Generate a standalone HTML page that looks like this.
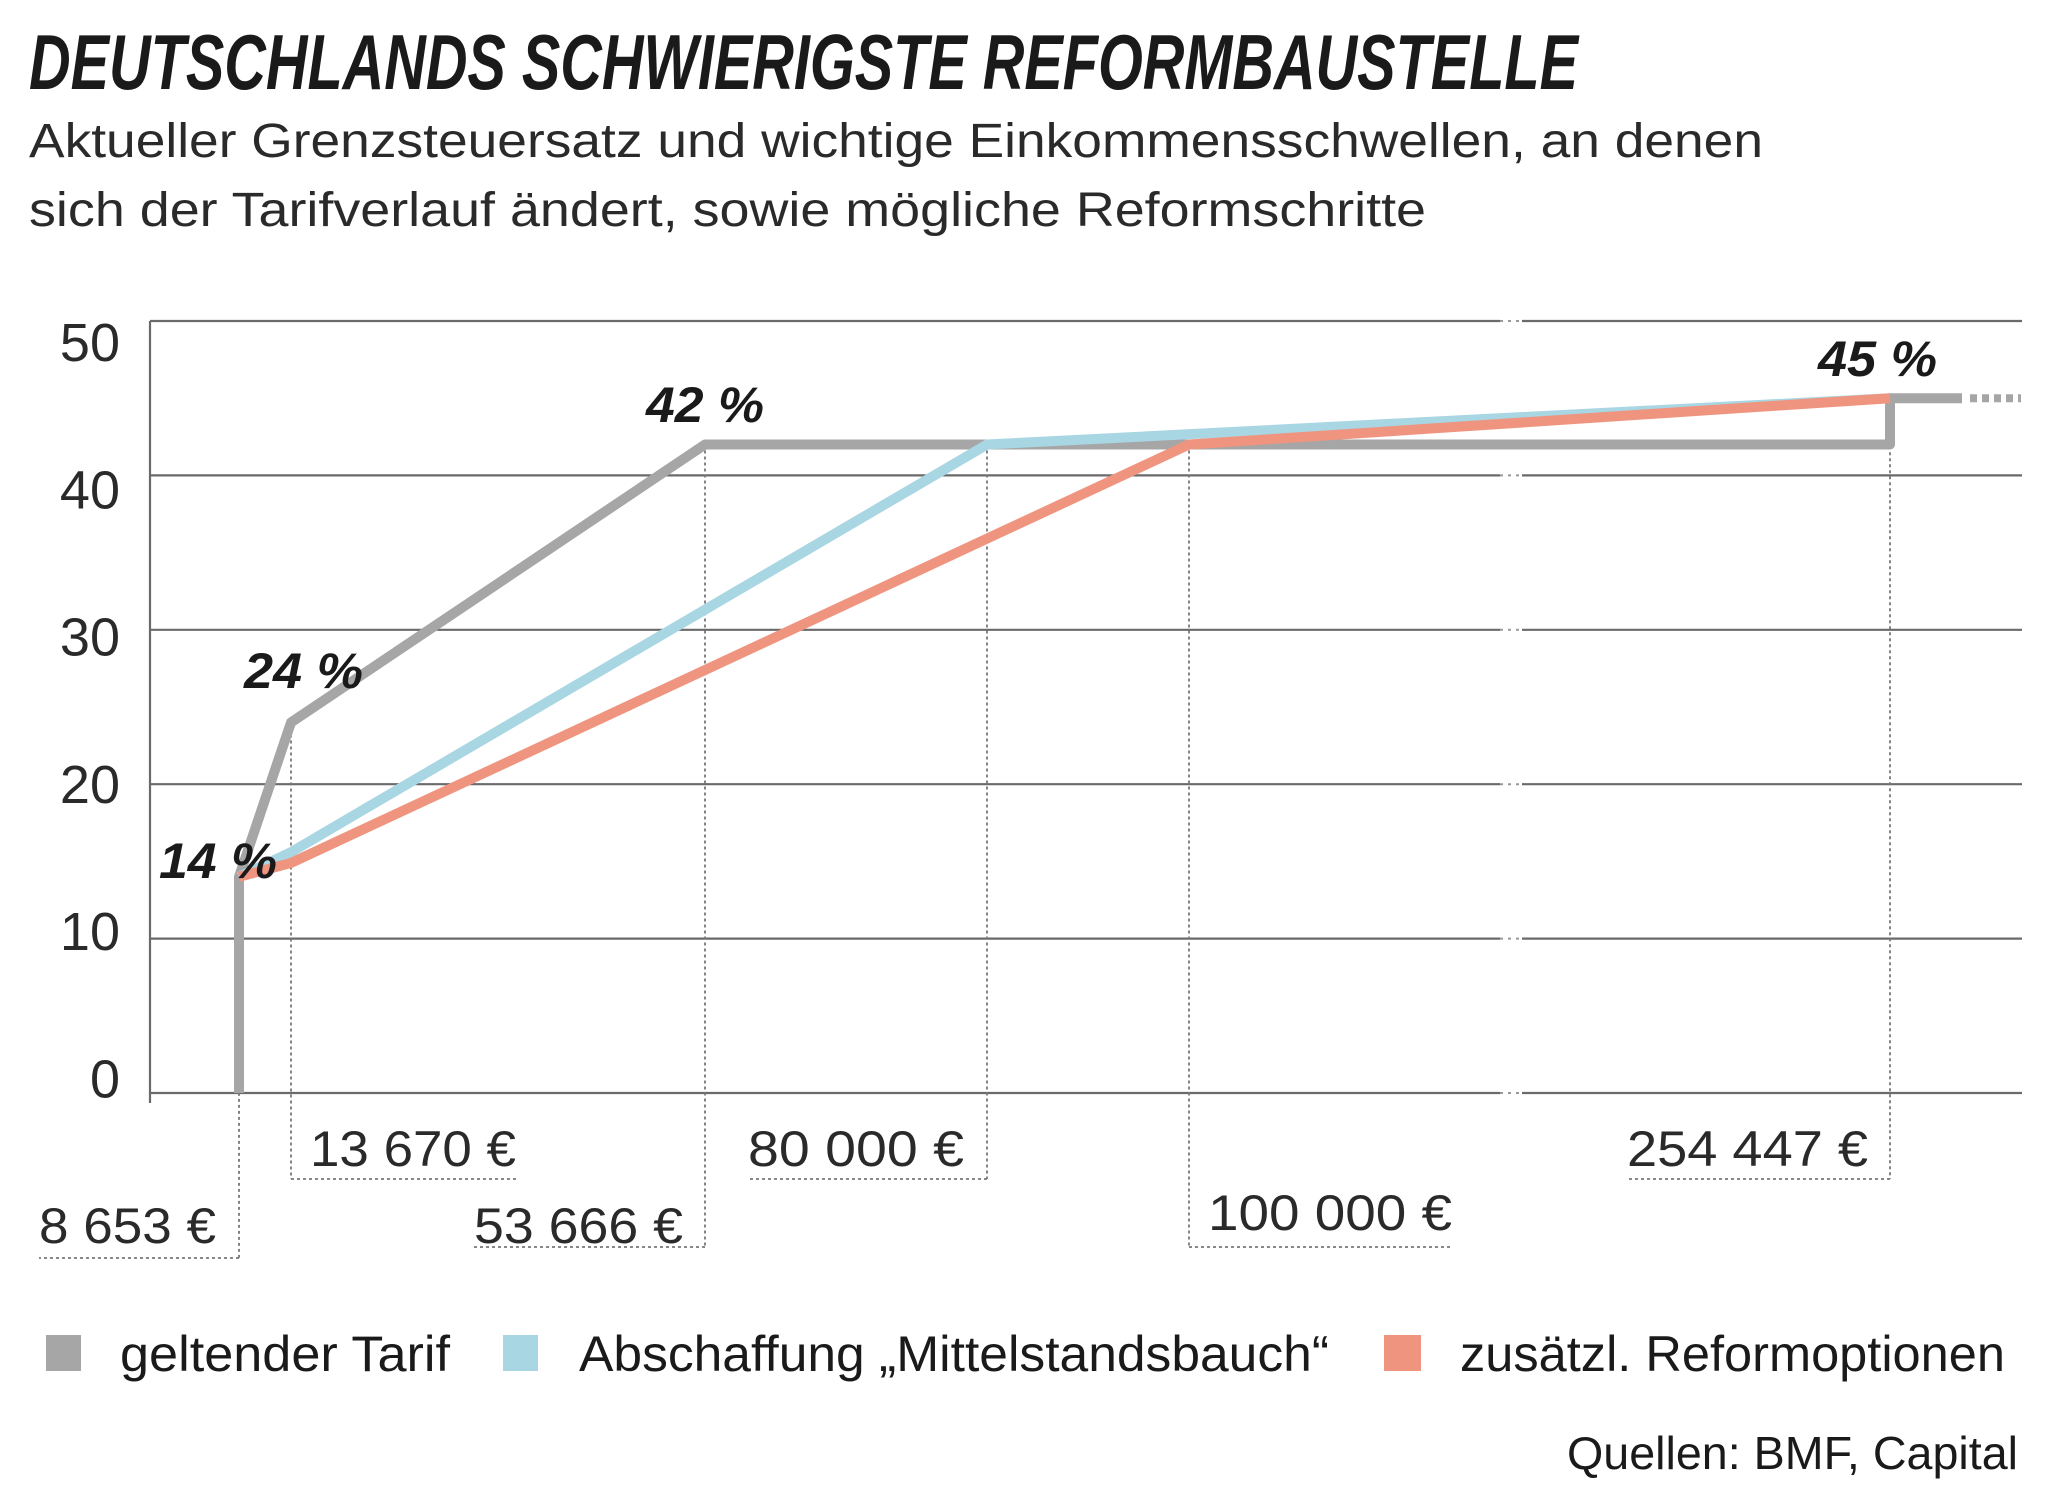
<!DOCTYPE html>
<html><head><meta charset="utf-8"><style>
html,body{margin:0;padding:0;background:#fff;}
svg{display:block;font-family:"Liberation Sans Narrow","Liberation Sans",sans-serif;}
</style></head><body>
<svg id="chart" width="2048" height="1495" viewBox="0 0 2048 1495" xmlns="http://www.w3.org/2000/svg">
<rect width="2048" height="1495" fill="#fff"/>
<text x="29" y="89" font-size="78" font-weight="bold" font-style="italic" fill="#1a1a1a" textLength="1549" lengthAdjust="spacingAndGlyphs">DEUTSCHLANDS SCHWIERIGSTE REFORMBAUSTELLE</text>
<text x="29" y="157" font-size="48" fill="#2a2a2a" textLength="1734" lengthAdjust="spacingAndGlyphs">Aktueller Grenzsteuersatz und wichtige Einkommensschwellen, an denen</text>
<text x="29" y="226" font-size="48" fill="#2a2a2a" textLength="1397" lengthAdjust="spacingAndGlyphs">sich der Tarifverlauf ändert, sowie mögliche Reformschritte</text>
<g id="grid"></g>
<g id="leaders"></g>
<g id="series"></g>
<g font-size="50" fill="#2a2a2a">
<text x="39" y="1243" textLength="177" lengthAdjust="spacingAndGlyphs">8 653 €</text>
<text x="310" y="1166" textLength="206" lengthAdjust="spacingAndGlyphs">13 670 €</text>
<text x="474" y="1243" textLength="209" lengthAdjust="spacingAndGlyphs">53 666 €</text>
<text x="748" y="1166" textLength="216" lengthAdjust="spacingAndGlyphs">80 000 €</text>
<text x="1208" y="1230" textLength="244" lengthAdjust="spacingAndGlyphs">100 000 €</text>
<text x="1627" y="1166" textLength="241" lengthAdjust="spacingAndGlyphs">254 447 €</text>
</g>
<g font-size="50" font-weight="bold" font-style="italic" fill="#1a1a1a">
<text x="159" y="878" textLength="118" lengthAdjust="spacingAndGlyphs">14 %</text>
<text x="244" y="688" textLength="119" lengthAdjust="spacingAndGlyphs">24 %</text>
<text x="646" y="422" textLength="118" lengthAdjust="spacingAndGlyphs">42 %</text>
<text x="1818" y="376" textLength="119" lengthAdjust="spacingAndGlyphs">45 %</text>
</g>
<g font-size="50" fill="#1a1a1a">
<rect x="46" y="1335" width="35" height="36" fill="#a6a6a6"/>
<text x="120" y="1371" textLength="330" lengthAdjust="spacingAndGlyphs">geltender Tarif</text>
<rect x="503" y="1335" width="35" height="36" fill="#a9d6e3"/>
<text x="579" y="1371" textLength="750" lengthAdjust="spacingAndGlyphs">Abschaffung „Mittelstandsbauch“</text>
<rect x="1384" y="1335" width="37" height="36" fill="#ef957f"/>
<text x="1460" y="1371" textLength="545" lengthAdjust="spacingAndGlyphs">zusätzl. Reformoptionen</text>
</g>
<text x="2018" y="1469" text-anchor="end" font-size="46" fill="#1a1a1a" textLength="451" lengthAdjust="spacingAndGlyphs">Quellen: BMF, Capital</text>
</svg>
<script>
const yTicks = [0, 10, 20, 30, 40, 50];
const thresholds = [8653, 13670, 53666, 80000, 100000, 254447];
const thresholdRates = [14, 24, 42, 42, 42, 45];
const currentIncome = [8653, 8653, 13670, 53666, 254447, 254447, 270000];
const currentRate   = [0, 14, 24, 42, 42, 45, 45];
const abolitionIncome = [8653, 13670, 80000, 254447];
const abolitionRate   = [14, 15.6, 42, 45];
const reformIncome = [8653, 13670, 100000, 254447];
const reformRate   = [14, 14.9, 42, 45];

const NS = "http://www.w3.org/2000/svg";
const xDom = [8653, 13670, 53666, 80000, 100000, 254447, 270000];
const xRng = [239, 291, 705, 987, 1189, 1890, 1962];
function x(v){
  for(let i=0;i<xDom.length-1;i++){
    if(v<=xDom[i+1]||i===xDom.length-2){
      return xRng[i]+(v-xDom[i])/(xDom[i+1]-xDom[i])*(xRng[i+1]-xRng[i]);
    }
  }
}
const Y0 = 1093, Y50 = 321;
function y(v){ return Y0 + (Y50-Y0)*v/50; }
function labelY(v){ return 342 + (50-v)/10*147.3 + 19; }
function mk(tag, attrs, parent){
  const el = document.createElementNS(NS, tag);
  for(const k in attrs) el.setAttribute(k, attrs[k]);
  parent.appendChild(el);
  return el;
}
const grid = document.getElementById('grid');
yTicks.forEach(t=>{
  const g1 = mk('line',{x1:150,x2:1500,y1:y(t),y2:y(t),stroke:'#6a6a6a','stroke-width':2.2},grid);
  
  
  const g2 = mk('line',{x1:1522,x2:2022,y1:y(t),y2:y(t),stroke:'#6a6a6a','stroke-width':2.2},grid);
  
  
  const br = mk('line',{x1:1500,x2:1522,y1:y(t),y2:y(t),stroke:'#999','stroke-width':2,'stroke-dasharray':'3 5'},grid);
  
  
  const lb = mk('text',{x:120,y:labelY(t),'text-anchor':'end','font-size':54,fill:'#2a2a2a'},grid);
  
  
  lb.textContent = t;
});
const ax = mk('line',{x1:150,x2:150,y1:Y50,y2:Y0+10,stroke:'#6a6a6a','stroke-width':2.2},grid);



const labelBottom = [1258, 1179, 1247, 1179, 1247, 1179];
const labelEdge = [39, 516, 474, 748, 1452, 1627];
const leaders = document.getElementById('leaders');
thresholds.forEach((t,i)=>{
  const xx = x(t);
  const v = mk('line',{x1:xx,x2:xx,y1:y(thresholdRates[i]),y2:labelBottom[i],stroke:'#777','stroke-width':1.8,'stroke-dasharray':'3 3'},leaders);
  
  
  const h = mk('line',{x1:xx,x2:labelEdge[i],y1:labelBottom[i],y2:labelBottom[i],stroke:'#777','stroke-width':1.8,'stroke-dasharray':'3 3'},leaders);
  
  
});

const series = document.getElementById('series');
function drawLine(xs, ys, color, name){
  const pts = xs.map((v,i)=>x(v)+','+y(ys[i])).join(' ');
  const p = mk('polyline',{points:pts,fill:'none',stroke:color,'stroke-width':10,'stroke-linejoin':'round'},series);
  
  
}
drawLine(currentIncome, currentRate, '#a6a6a6', 'line-current-tariff');
drawLine(abolitionIncome, abolitionRate, '#a9d6e3', 'line-abolition');
drawLine(reformIncome, reformRate, '#ef957f', 'line-reform');
const lastI = currentIncome.length-1;
const ext = mk('line',{x1:x(currentIncome[lastI])+8,x2:2021,y1:y(currentRate[lastI]),y2:y(currentRate[lastI]),stroke:'#a6a6a6','stroke-width':8,'stroke-dasharray':'7 5'},series);


</script>
</body></html>
